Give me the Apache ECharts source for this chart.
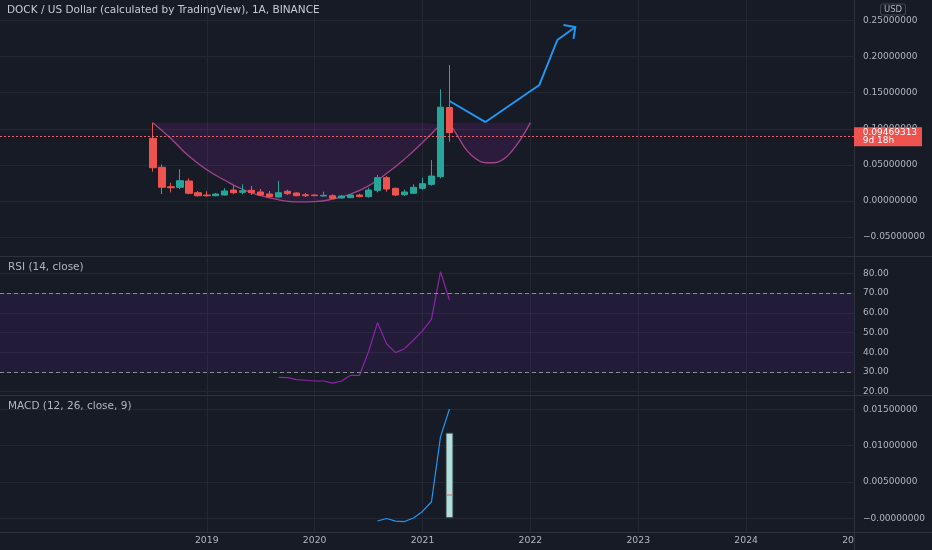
<!DOCTYPE html>
<html><head><meta charset="utf-8">
<script src="https://cdn.jsdelivr.net/npm/echarts@6/dist/echarts.min.js"></script>
<style>html,body{margin:0;padding:0;background:#171b26;overflow:hidden;width:932px;height:550px;}#c{width:932px;height:560px;}</style>
</head><body><div id="c"></div>
<script>
// ---------- data ----------
const TITLE = 'DOCK / US Dollar (calculated by TradingView), 1A, BINANCE';
const RSI_TITLE = 'RSI (14, close)';
const MACD_TITLE = 'MACD (12, 26, close, 9)';
const PRICE_LABEL = '0.09469313';
const COUNTDOWN = '9d 18h';
const CURRENCY = 'USD';
const FIRST_YEAR_LABEL = '2019-01';

// monthly categories of the time axis (Feb 2017 .. Jan 2025)
const MONTHS = [];
for (let y = 2017; y <= 2025; y++) for (let m = 1; m <= 12; m++) {
  const s = y + '-' + String(m).padStart(2, '0');
  if (s >= '2017-02' && s <= '2025-01') MONTHS.push(s);
}

const CANDLE_MONTHS = ['2018-07','2018-08','2018-09','2018-10','2018-11','2018-12',
  '2019-01','2019-02','2019-03','2019-04','2019-05','2019-06','2019-07','2019-08','2019-09','2019-10','2019-11','2019-12',
  '2020-01','2020-02','2020-03','2020-04','2020-05','2020-06','2020-07','2020-08','2020-09','2020-10','2020-11','2020-12',
  '2021-01','2021-02','2021-03','2021-04'];
const OPEN  = [0.0868,0.0467,0.0198,0.0190,0.0277,0.0115, 0.0083,0.0073,0.0083,0.0152,0.0120,0.0148,0.0125,0.0097,0.0055,0.0134,0.0111,0.0087,
  0.0083,0.0069,0.0073,0.0042,0.0046,0.0083,0.0060,0.0148,0.0323,0.0176,0.0087,0.0107, 0.0176,0.0231,0.0337,0.1295];
const CLOSE = [0.0461,0.0190,0.0184,0.0281,0.0107,0.0073, 0.0073,0.0097,0.0139,0.0115,0.0143,0.0115,0.0083,0.0060,0.0115,0.0101,0.0073,0.0073,
  0.0074,0.0078,0.0037,0.0069,0.0083,0.0060,0.0152,0.0323,0.0166,0.0083,0.0125,0.0190, 0.0240,0.0346,0.1300,0.09469313];
const LOW   = [0.0406,0.0097,0.0120,0.0166,0.0093,0.0060, 0.0060,0.0065,0.0073,0.0093,0.0093,0.0083,0.0069,0.0051,0.0046,0.0083,0.0065,0.0055,
  0.0069,0.0065,0.0028,0.0032,0.0042,0.0051,0.0046,0.0120,0.0129,0.0069,0.0069,0.0097, 0.0157,0.0212,0.0314,0.0821];
const HIGH  = [0.1085,0.0508,0.0253,0.0439,0.0314,0.0139, 0.0134,0.0111,0.0176,0.0212,0.0231,0.0208,0.0166,0.0139,0.0277,0.0157,0.0120,0.0111,
  0.0088,0.0129,0.0093,0.0083,0.0097,0.0102,0.0184,0.0360,0.0346,0.0184,0.0157,0.0231, 0.0323,0.0568,0.1547,0.1884];
const LAST_PRICE = 0.09469313;

// cup & handle drawing
const CUP_TOP = 0.1085;
const CUP_MONTHS = ['2018-07','2018-09','2018-11','2019-01','2019-03','2019-05','2019-07','2019-09','2019-11',
  '2020-01','2020-03','2020-05','2020-07','2020-09','2020-11','2021-01','2021-03'];
const CUP_VALUES = [0.1085,0.0867,0.0622,0.0434,0.0287,0.0160,0.0073,0.0017,-0.0013,
  -0.0008,0.0026,0.0096,0.0210,0.0380,0.0580,0.0810,0.1060];
const HANDLE_MONTHS = ['2021-04','2021-05','2021-06','2021-07','2021-08','2021-09','2021-10','2021-11','2021-12','2022-01'];
const HANDLE_VALUES = [0.1085,0.0880,0.0690,0.0580,0.0530,0.0530,0.0580,0.0700,0.0870,0.1085];

// projection arrow
const ARROW_MONTHS = ['2021-04','2021-08','2022-02','2022-04','2022-06'];
const ARROW_VALUES = [0.1385,0.1094,0.1607,0.2230,0.2410];

// RSI
const RSI_MONTHS = ['2019-09','2019-10','2019-11','2019-12','2020-01','2020-02','2020-03','2020-04','2020-05','2020-06',
  '2020-07','2020-08','2020-09','2020-10','2020-11','2020-12','2021-01','2021-02','2021-03','2021-04'];
const RSI_VALUES = [27.3,27.1,26.1,25.8,25.4,25.4,24.3,25.4,28.3,28.3,40.3,55.0,44.3,39.8,41.8,46.2,50.8,56.8,80.8,66.5];
const RSI_UPPER = 70, RSI_LOWER = 30;

// MACD
const MACD_MONTHS = ['2020-08','2020-09','2020-10','2020-11','2020-12','2021-01','2021-02','2021-03','2021-04'];
const MACD_VALUES = [-0.00037,-0.00003,-0.0004,-0.00045,0.00004,0.00094,0.00228,0.0112,0.01504];
const HIST_MONTHS = ['2021-04'];
const HIST_VALUES = [0.0118];
const SIGNAL_MONTHS = ['2021-04'];
const SIGNAL_VALUES = [0.0032];

// ---------- chart ----------
const BG = '#171b26', GRID = '#232733', SEP = '#2e323e', TXT = '#b2b5be', FONT = 'DejaVu Sans';
const pair = (ms, vs) => ms.map((m, i) => [m, vs[i]]);
const yearTick = (i, v) => {
  const s = typeof v === 'string' ? v : MONTHS[i];
  return !!s && s.endsWith('-01') && s >= FIRST_YEAR_LABEL;
};
const fmtSigned = (v, d) => (v < 0 ? '\u2212' + Math.abs(v).toFixed(d) : v.toFixed(d));

const L = -3, R = 78;
const chart = echarts.init(document.getElementById('c'), null, {renderer: 'canvas'});
const hiddenX = i => ({type: 'category', gridIndex: i, data: MONTHS, boundaryGap: false, show: false});
const yLabel = {color: TXT, fontSize: 9, fontFamily: FONT, margin: 9, showMinLabel: false, showMaxLabel: false};
const ySplit = {show: true, showMinLine: false, showMaxLine: false, lineStyle: {color: GRID, width: 1}};

chart.setOption({
  backgroundColor: BG,
  animation: false,
  grid: [
    {left: L, right: R, top: 0, height: 532},
    {left: L, right: R, top: 0, height: 273.2},
    {left: L, right: R, top: 253.6, height: 157.8},
    {left: L, right: R, top: 373, height: 181.6}
  ],
  xAxis: [
    {type: 'category', gridIndex: 0, data: MONTHS, boundaryGap: false,
     axisLine: {show: false}, axisTick: {show: false},
     axisLabel: {interval: yearTick, formatter: v => v.slice(0, 4), color: TXT, fontSize: 9.3, fontFamily: FONT, margin: 4},
     splitLine: {show: true, interval: yearTick, lineStyle: {color: GRID, width: 1}}},
    hiddenX(1), hiddenX(2), hiddenX(3)
  ],
  yAxis: [
    {gridIndex: 0, type: 'value', min: 0, max: 1, show: false},
    {gridIndex: 1, type: 'value', position: 'right', min: -0.1, max: 0.2784, interval: 0.05,
     axisLine: {show: false}, axisTick: {show: false},
     axisLabel: Object.assign({formatter: v => fmtSigned(v, 8)}, yLabel), splitLine: ySplit},
    {gridIndex: 2, type: 'value', position: 'right', min: 10, max: 90, interval: 10,
     axisLine: {show: false}, axisTick: {show: false},
     axisLabel: Object.assign({formatter: v => v.toFixed(2)}, yLabel), splitLine: ySplit},
    {gridIndex: 3, type: 'value', position: 'right', min: -0.005, max: 0.02, interval: 0.005,
     axisLine: {show: false}, axisTick: {show: false},
     axisLabel: Object.assign({formatter: v => Math.abs(v) < 1e-12 ? '\u22120.00000000' : fmtSigned(v, 8)}, yLabel), splitLine: ySplit}
  ],
  series: [
    {type: 'line', name: 'cup', xAxisIndex: 1, yAxisIndex: 1, data: pair(CUP_MONTHS, CUP_VALUES),
     smooth: 0.5, showSymbol: false, z: 1,
     lineStyle: {color: '#a0448c', width: 1.3},
     areaStyle: {origin: CUP_TOP, color: 'rgba(156,39,176,0.22)'}},
    {type: 'line', name: 'handle', xAxisIndex: 1, yAxisIndex: 1, data: pair(HANDLE_MONTHS, HANDLE_VALUES),
     smooth: 0.5, showSymbol: false, z: 1,
     lineStyle: {color: '#a0448c', width: 1.3},
     areaStyle: {origin: CUP_TOP, color: 'rgba(156,39,176,0.22)'}},
    {type: 'candlestick', xAxisIndex: 1, yAxisIndex: 1, barWidth: 7, z: 3,
     dimensions: ['date', 'open', 'close', 'lowest', 'highest'],
     encode: {x: 'date', y: ['open', 'close', 'lowest', 'highest']},
     data: CANDLE_MONTHS.map((m, i) => [m, OPEN[i], CLOSE[i], LOW[i], HIGH[i]]),
     itemStyle: {color: '#26a69a', color0: '#ef5350', borderColor: '#26a69a', borderColor0: '#ef5350', borderWidth: 1},
     markLine: {silent: true, symbol: ['none', 'none'], label: {show: false},
       lineStyle: {color: '#f0626a', type: [2, 2], width: 1}, data: [{yAxis: LAST_PRICE}]}},
    {type: 'line', name: 'arrow', xAxisIndex: 1, yAxisIndex: 1, data: pair(ARROW_MONTHS, ARROW_VALUES),
     showSymbol: false, z: 5, lineStyle: {color: '#2196f3', width: 2}},
    {type: 'custom', xAxisIndex: 1, yAxisIndex: 1, z: 5, data: [[0]],
     renderItem: (params, api) => {
       const n = ARROW_MONTHS.length;
       const p1 = api.coord([MONTHS.indexOf(ARROW_MONTHS[n - 2]), ARROW_VALUES[n - 2]]);
       const p2 = api.coord([MONTHS.indexOf(ARROW_MONTHS[n - 1]), ARROW_VALUES[n - 1]]);
       const a = Math.atan2(p1[1] - p2[1], p1[0] - p2[0]);
       const len = 12, sp = Math.PI / 4;
       const a1 = [p2[0] + len * Math.cos(a + sp), p2[1] + len * Math.sin(a + sp)];
       const a2 = [p2[0] + len * Math.cos(a - sp), p2[1] + len * Math.sin(a - sp)];
       return {type: 'polyline', shape: {points: [a1, p2, a2]},
               style: {stroke: '#2196f3', lineWidth: 2, fill: 'none'}};
     }},
    {type: 'line', name: 'RSI', xAxisIndex: 2, yAxisIndex: 2, data: pair(RSI_MONTHS, RSI_VALUES),
     showSymbol: false, lineStyle: {color: '#8e24aa', width: 1.2},
     markArea: {silent: true, itemStyle: {color: 'rgba(120,40,200,0.12)'}, data: [[{yAxis: RSI_UPPER}, {yAxis: RSI_LOWER}]]},
     markLine: {silent: true, symbol: ['none', 'none'], label: {show: false},
       lineStyle: {color: '#8a8d96', type: [4, 3], width: 1}, data: [{yAxis: RSI_UPPER}, {yAxis: RSI_LOWER}]}},
    {type: 'bar', name: 'hist', xAxisIndex: 3, yAxisIndex: 3, data: pair(HIST_MONTHS, HIST_VALUES), barWidth: 8,
     itemStyle: {color: '#b2dfdb', borderColor: '#2f3b3d', borderWidth: 1}},
    {type: 'line', name: 'MACD', xAxisIndex: 3, yAxisIndex: 3, data: pair(MACD_MONTHS, MACD_VALUES),
     showSymbol: false, z: 4, lineStyle: {color: '#2196f3', width: 1.2}},
    {type: 'scatter', name: 'signal', xAxisIndex: 3, yAxisIndex: 3, data: pair(SIGNAL_MONTHS, SIGNAL_VALUES),
     symbol: 'rect', symbolSize: [6, 1.5], z: 5, itemStyle: {color: '#e57373'}}
  ]
});

const yPrice = chart.convertToPixel({gridIndex: 1}, [0, LAST_PRICE])[1];
const titleFont = '10.5px "' + FONT + '"';
const t = (text, x, y, fill) => ({type: 'text', x, y, z: 30,
  style: {text, fill: fill || TXT, font: titleFont, verticalAlign: 'middle', align: 'left'}});
chart.setOption({graphic: [
  {type: 'rect', z: 10, shape: {x: 855, y: 533, width: 77, height: 27}, style: {fill: BG}},
  {type: 'line', z: 20, shape: {x1: 0, y1: 256.5, x2: 932, y2: 256.5}, style: {stroke: SEP, lineWidth: 1}},
  {type: 'line', z: 20, shape: {x1: 0, y1: 395.5, x2: 932, y2: 395.5}, style: {stroke: SEP, lineWidth: 1}},
  {type: 'line', z: 20, shape: {x1: 0, y1: 532.5, x2: 932, y2: 532.5}, style: {stroke: SEP, lineWidth: 1}},
  {type: 'line', z: 20, shape: {x1: 854.5, y1: 0, x2: 854.5, y2: 560}, style: {stroke: SEP, lineWidth: 1}},
  t(TITLE, 7, 10, '#c8cad1'),
  t(RSI_TITLE, 8, 267),
  t(MACD_TITLE, 8, 406),
  {type: 'rect', z: 30, shape: {x: 880.5, y: 4, width: 25, height: 11, r: 2}, style: {fill: 'none', stroke: '#434651', lineWidth: 1}},
  {type: 'text', z: 31, x: 893, y: 9.8, style: {text: CURRENCY, fill: TXT, font: '8.5px "' + FONT + '"', align: 'center', verticalAlign: 'middle'}},
  {type: 'rect', z: 40, shape: {x: 854, y: yPrice - 5.3, width: 68, height: 19}, style: {fill: '#ef5350'}},
  {type: 'text', z: 41, x: 862.7, y: yPrice + 0.1, style: {text: PRICE_LABEL, fill: '#ffffff', font: '9px "' + FONT + '"', verticalAlign: 'middle'}},
  {type: 'text', z: 41, x: 862.7, y: yPrice + 8.4, style: {text: COUNTDOWN, fill: '#ffffff', font: '9px "' + FONT + '"', verticalAlign: 'middle'}}
]});
</script></body></html>
